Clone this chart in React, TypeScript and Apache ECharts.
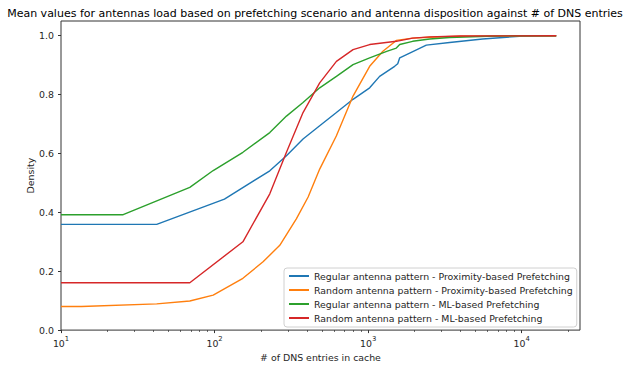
import React, { useEffect, useRef } from "react";
import * as echarts from "echarts";

const TITLE = "Mean values for antennas load based on prefetching scenario and antenna disposition against # of DNS entries";
const SERIES_NAMES = [
  "Regular antenna pattern - Proximity-based Prefetching",
  "Random antenna pattern - Proximity-based Prefetching",
  "Regular antenna pattern - ML-based Prefetching",
  "Random antenna pattern - ML-based Prefetching",
];
const COLORS = ["#1f77b4", "#ff7f0e", "#2ca02c", "#d62728"];

// Regular antenna pattern - Proximity-based
const xRegProx = [10, 42, 116, 229, 294, 377, 484, 622, 798, 1024, 1189, 1489, 1560, 1607, 1866, 2395, 3395, 5570, 9680, 16800];
const yRegProx = [0.359, 0.359, 0.445, 0.541, 0.592, 0.649, 0.694, 0.739, 0.784, 0.823, 0.862, 0.896, 0.905, 0.925, 0.941, 0.968, 0.977, 0.989, 0.998, 1.0];

// Random antenna pattern - Proximity-based
const xRandProx = [10, 13.6, 42, 69, 98, 153, 207, 266, 341, 407, 484, 622, 798, 1024, 1249, 1527, 1950, 2519, 4000, 10000, 16800];
const yRandProx = [0.080, 0.080, 0.089, 0.099, 0.119, 0.176, 0.232, 0.288, 0.378, 0.452, 0.547, 0.660, 0.795, 0.896, 0.947, 0.984, 0.992, 0.995, 0.998, 1.0, 1.0];

// Regular antenna pattern - ML-based
const xRegMl = [10, 25.4, 69, 98, 153, 229, 294, 377, 484, 622, 798, 1024, 1322, 1527, 1607, 1950, 2519, 3395, 6000, 10000, 16800];
const yRegMl = [0.392, 0.392, 0.485, 0.542, 0.604, 0.671, 0.727, 0.773, 0.823, 0.862, 0.902, 0.925, 0.947, 0.958, 0.970, 0.981, 0.989, 0.994, 0.998, 1.0, 1.0];

// Random antenna pattern - ML-based
const xRandMl = [10, 69, 153, 229, 294, 377, 484, 622, 798, 1024, 1527, 1950, 2519, 4000, 16800];
const yRandMl = [0.161, 0.161, 0.300, 0.463, 0.604, 0.739, 0.840, 0.913, 0.953, 0.970, 0.981, 0.992, 0.996, 0.999, 1.0];

const X_MIN = 10;
const X_MAX = 24000;
const X_MAJOR = [10, 100, 1000, 10000];
const X_MINOR = [20, 30, 40, 50, 60, 70, 80, 90, 200, 300, 400, 500, 600, 700, 800, 900, 2000, 3000, 4000, 5000, 6000, 7000, 8000, 9000, 20000];
const Y_TICKS = [0, 0.2, 0.4, 0.6, 0.8, 1.0];

const FONT = "DejaVu Sans";
const TEXT_COLOR = "#262626";
const LABEL_SIZE = 9.4;

export default function App() {
  const ref = useRef<HTMLDivElement>(null);
  useEffect(() => {
    if (!ref.current) return;
    const chart = echarts.init(ref.current, undefined, { renderer: "svg" });
    const xs = [xRegProx, xRandProx, xRegMl, xRandMl];
    const ys = [yRegProx, yRandProx, yRegMl, yRandMl];
    const series = SERIES_NAMES.map((name, i) => ({
      name,
      type: "line",
      xAxisIndex: 0,
      yAxisIndex: 0,
      data: xs[i].map((x, j) => [x, ys[i][j]]),
      showSymbol: false,
      symbol: "none",
      lineStyle: { color: COLORS[i], width: 1.4 },
      itemStyle: { color: COLORS[i] },
    }));
    chart.setOption({
      animation: false,
      title: {
        text: TITLE,
        left: 310,
        top: 3,
        textAlign: "center",
        textStyle: { fontFamily: FONT, fontSize: 11, fontWeight: "normal", color: "#000" },
      },
      grid: {
        left: 61,
        right: 49,
        top: 21,
        bottom: 35,
        show: true,
        borderColor: "#333",
        borderWidth: 1,
        backgroundColor: "#fff",
      },
      legend: {
        orient: "vertical",
        left: 284,
        top: 268,
        itemWidth: 20,
        itemHeight: 2,
        itemGap: 4,
        icon: "rect",
        padding: [3, 4, 4, 5],
        backgroundColor: "rgba(255,255,255,0.8)",
        borderColor: "#d0d0d0",
        borderWidth: 1,
        borderRadius: 3,
        textStyle: { fontFamily: FONT, fontSize: LABEL_SIZE, lineHeight: 10, color: TEXT_COLOR },
        data: SERIES_NAMES,
      },
      xAxis: [
        {
          type: "log",
          min: X_MIN,
          max: X_MAX,
          show: false,
          splitLine: { show: false },
        },
        {
          type: "value",
          min: Math.log10(X_MIN),
          max: Math.log10(X_MAX),
          position: "bottom",
          name: "# of DNS entries in cache",
          nameLocation: "middle",
          nameGap: 20,
          nameTextStyle: { fontFamily: FONT, fontSize: LABEL_SIZE, color: TEXT_COLOR },
          axisLine: { show: false },
          splitLine: { show: false },
          axisTick: {
            show: true,
            length: 3,
            customValues: X_MAJOR.map((v) => Math.log10(v)),
            lineStyle: { color: "#333", width: 1 },
          },
          axisLabel: {
            customValues: X_MAJOR.map((v) => Math.log10(v)),
            margin: 5,
            formatter: (v: number) => `{b|10}{s|${Math.round(v)}}`,
            rich: {
              b: { fontFamily: FONT, fontSize: LABEL_SIZE, color: TEXT_COLOR, lineHeight: 13, verticalAlign: "bottom" },
              s: { fontFamily: FONT, fontSize: 6.8, color: TEXT_COLOR, lineHeight: 8, verticalAlign: "top" },
            },
          },
        },
        {
          type: "value",
          min: Math.log10(X_MIN),
          max: Math.log10(X_MAX),
          position: "bottom",
          axisLine: { show: false },
          splitLine: { show: false },
          axisLabel: { show: false },
          axisTick: {
            show: true,
            length: 1.8,
            customValues: X_MINOR.map((v) => Math.log10(v)),
            lineStyle: { color: "#333", width: 0.8 },
          },
        },
      ],
      yAxis: [
        {
          type: "value",
          min: 0,
          max: 1.05,
          name: "Density",
          nameLocation: "middle",
          nameGap: 26,
          nameMoveOverlap: false,
          nameTextStyle: { fontFamily: FONT, fontSize: LABEL_SIZE, color: TEXT_COLOR },
          axisLine: { show: false },
          splitLine: { show: false },
          axisTick: {
            show: true,
            length: 3,
            customValues: Y_TICKS,
            lineStyle: { color: "#333", width: 1 },
          },
          axisLabel: {
            customValues: Y_TICKS,
            margin: 7,
            formatter: (v: number) => v.toFixed(1),
            fontFamily: FONT,
            fontSize: LABEL_SIZE,
            color: TEXT_COLOR,
          },
        },
      ],
      series,
    });
    return () => chart.dispose();
  }, []);
  return (
    <div
      ref={ref}
      style={{ position: "fixed", left: 0, top: 0, width: 629, height: 367, background: "#fff" }}
    />
  );
}
